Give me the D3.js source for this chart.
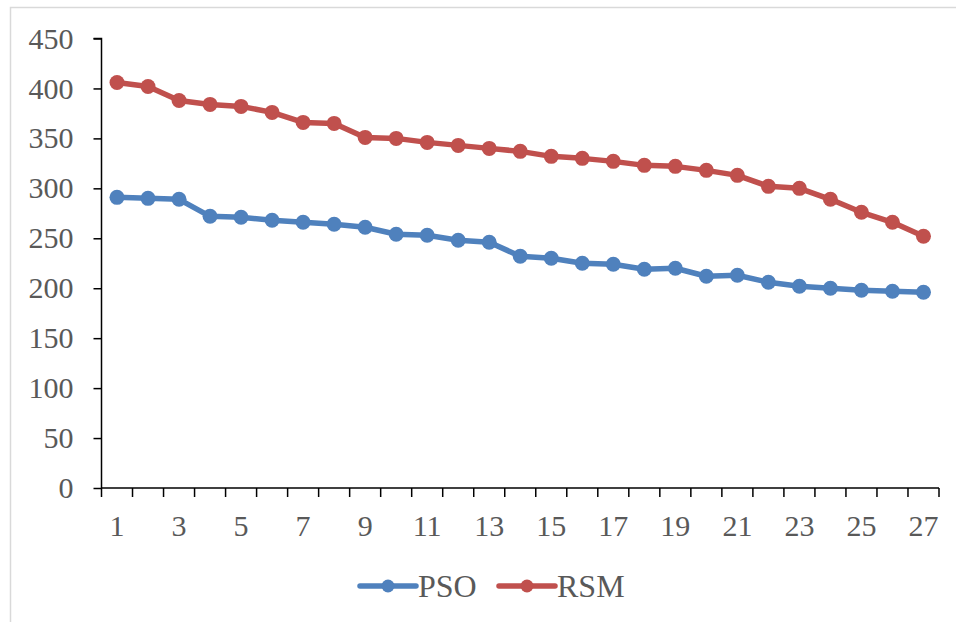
<!DOCTYPE html>
<html>
<head>
<meta charset="utf-8">
<script src="https://cdn.jsdelivr.net/npm/d3@7"></script>
<style>
  html, body { margin: 0; padding: 0; background: #fff; }
  svg text { font-family: "Liberation Serif", "Times New Roman", serif; fill: #595959; }
</style>
</head>
<body>
<svg id="chart" width="956" height="622"></svg>
<script>
// Run index (x categories)
const categories = d3.range(1, 28);
// Fitness values per run
const psoValues = [291, 290, 289, 272, 271, 268, 266, 264, 261, 254, 253, 248, 246, 232, 230, 225, 224, 219, 220, 212, 213, 206, 202, 200, 198, 197, 196];
const rsmValues = [406, 402, 388, 384, 382, 376, 366, 365, 351, 350, 346, 343, 340, 337, 332, 330, 327, 323, 322, 318, 313, 302, 300, 289, 276, 266, 252];
const yTicks = [0, 50, 100, 150, 200, 250, 300, 350, 400, 450];
const seriesNames = ["PSO", "RSM"];
const seriesColors = ["#4F81BD", "#C0504D"];

const series = [
  { name: seriesNames[0], color: seriesColors[0], values: psoValues },
  { name: seriesNames[1], color: seriesColors[1], values: rsmValues }
];

const svg = d3.select("#chart");

// Chart area frame
svg.append("rect")
  .attr("x", 10.5).attr("y", 7.5)
  .attr("width", 960).attr("height", 640)
  .attr("fill", "none").attr("stroke", "#d9d9d9").attr("stroke-width", 1.5);

const plotLeft = 101.5, plotRight = 939, plotTop = 38.5, plotBottom = 488;

const x = d3.scaleBand().domain(categories).range([plotLeft, plotRight]).padding(0);
const y = d3.scaleLinear().domain([0, 450]).range([plotBottom, plotTop]);

// Y axis
const yAxis = svg.append("g")
  .attr("transform", `translate(${plotLeft},0)`)
  .call(d3.axisLeft(y).tickValues(yTicks).tickSize(8).tickPadding(20).tickFormat(d3.format("d")));
yAxis.select(".domain").attr("stroke", "#000").attr("stroke-width", 1.5).attr("d", `M-8,${y(450)}H0V${plotBottom}`);
yAxis.selectAll(".tick line").attr("stroke", "#000").attr("stroke-width", 1.5);
yAxis.selectAll(".tick text").attr("font-size", 30).attr("dy", "0.32em")
  .style("font-family", "'Liberation Serif', serif").attr("fill", "#595959");

// X axis: ticks between categories, labels on odd runs
const xg = svg.append("g").attr("transform", `translate(0,${plotBottom})`);
xg.append("line").attr("x1", plotLeft).attr("x2", plotRight).attr("y1", 0).attr("y2", 0)
  .attr("stroke", "#000").attr("stroke-width", 1.5);
const boundaries = categories.map(c => x(c)).concat([plotRight]);
xg.selectAll("line.tk").data(boundaries).enter().append("line")
  .attr("class", "tk")
  .attr("x1", d => d).attr("x2", d => d).attr("y1", 0).attr("y2", 9)
  .attr("stroke", "#000").attr("stroke-width", 1.5);
xg.selectAll("text").data(categories.filter(c => c % 2 === 1)).enter().append("text")
  .attr("x", d => x(d) + x.bandwidth() / 2)
  .attr("y", 48)
  .attr("text-anchor", "middle")
  .attr("font-size", 30)
  .text(d => d);

// Lines and markers
const line = d3.line()
  .x((d, i) => x(categories[i]) + x.bandwidth() / 2)
  .y(d => y(d));

series.forEach(s => {
  const g = svg.append("g");
  g.append("path")
    .attr("d", line(s.values))
    .attr("fill", "none")
    .attr("stroke", s.color)
    .attr("stroke-width", 5.5)
    .attr("stroke-linejoin", "round");
  g.selectAll("circle").data(s.values).enter().append("circle")
    .attr("cx", (d, i) => x(categories[i]) + x.bandwidth() / 2)
    .attr("cy", d => y(d))
    .attr("r", 7.5)
    .attr("fill", s.color);
});

// Legend
const legendItems = [
  { name: seriesNames[0], color: seriesColors[0], x0: 360 },
  { name: seriesNames[1], color: seriesColors[1], x0: 499 }
];
const ly = 586;
legendItems.forEach(it => {
  const g = svg.append("g");
  g.append("line").attr("x1", it.x0).attr("x2", it.x0 + 56).attr("y1", ly).attr("y2", ly)
    .attr("stroke", it.color).attr("stroke-width", 5.5).attr("stroke-linecap", "round");
  g.append("circle").attr("cx", it.x0 + 28).attr("cy", ly).attr("r", 6.5).attr("fill", it.color);
  g.append("text").attr("x", it.x0 + 58).attr("y", ly).attr("dy", "0.35em")
    .attr("font-size", 32).text(it.name);
});
</script>
</body>
</html>
